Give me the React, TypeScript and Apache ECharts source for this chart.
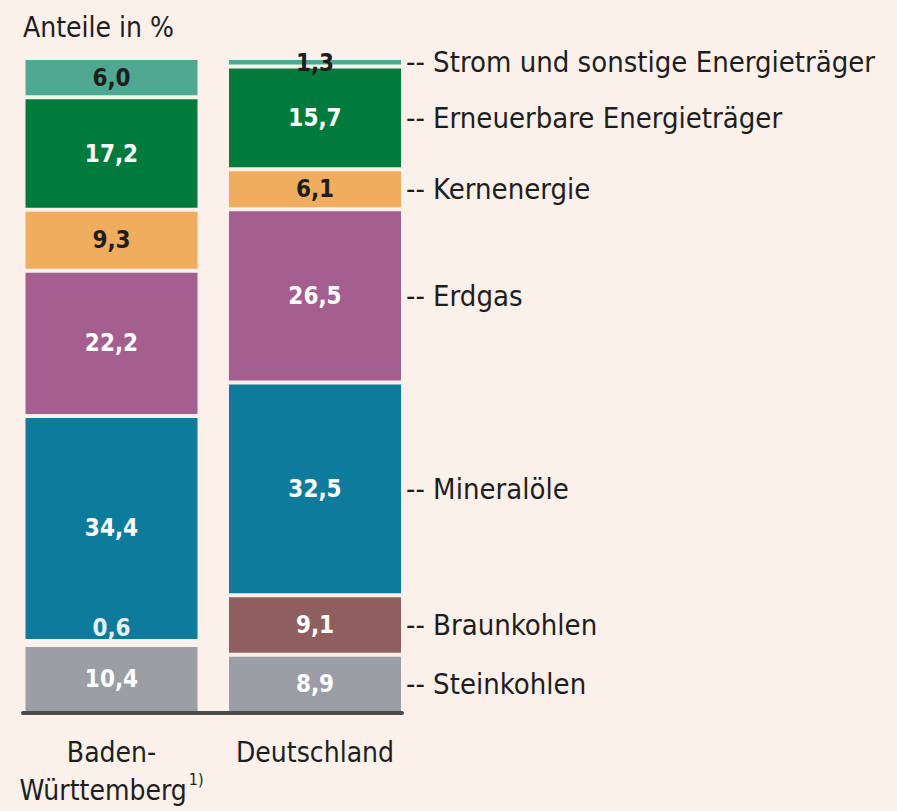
import React, { useEffect, useRef } from 'react';
import * as echarts from 'echarts';

const categories = ['Baden-Württemberg', 'Deutschland'];
const seriesNames = [
  'Steinkohlen',
  'Braunkohlen',
  'Mineralöle',
  'Erdgas',
  'Kernenergie',
  'Erneuerbare Energieträger',
  'Strom und sonstige Energieträger',
];
const steinkohlen = [10.4, 8.9];
const braunkohlen = [0.6, 9.1];
const mineraloele = [34.4, 32.5];
const erdgas = [22.2, 26.5];
const kernenergie = [9.3, 6.1];
const erneuerbare = [17.2, 15.7];
const strom = [6.0, 1.3];
const seriesValues = [steinkohlen, braunkohlen, mineraloele, erdgas, kernenergie, erneuerbare, strom];

const colors = ['#9b9ea5', '#8f5f60', '#0f7b9c', '#a55e90', '#f0ad5e', '#007b3b', '#4fa891'];
const darkLabel = [false, false, false, false, true, false, true];
const BG = '#fbf0ea';
const FONT = '"Liberation Sans Narrow", "DejaVu Sans Condensed", "Roboto Condensed", Roboto, sans-serif';
const BAR_W = 176;

const fmt = (v: number) => v.toFixed(1).replace('.', ',');

export default function App() {
  const ref = useRef<HTMLDivElement>(null);
  useEffect(() => {
    const chart = echarts.init(ref.current!, null, { renderer: 'svg' });
    const series = seriesValues.map((vals, si) => ({
      name: seriesNames[si],
      type: 'bar',
      stack: 'total',
      xAxisIndex: 0,
      yAxisIndex: 0,
      barWidth: BAR_W,
      itemStyle: { color: colors[si], borderColor: BG, borderWidth: 2 },
      label: {
        show: true,
        position: 'inside',
        color: darkLabel[si] ? '#1e1e1e' : '#ffffff',
        fontFamily: FONT,
        fontSize: 24,
        fontWeight: 'bold',
        formatter: (p: any) => fmt(p.value),
      },
      data: vals.map((v, ci) => {
        if (si === 1 && ci === 0) {
          return { value: v, label: { offset: [0, -15], color: '#e3f1f5' } };
        }
        if (si === 6 && ci === 1) {
          return { value: v, label: { offset: [0, 1], color: '#1e1e1e' } };
        }
        return v;
      }),
    }));

    chart.setOption({
      animation: false,
      backgroundColor: BG,
      grid: [
        { left: 9.75, width: 407, top: 58, bottom: 98 },
        { left: 23, width: 379, top: 58, bottom: 98 },
      ],
      xAxis: [
        {
          type: 'category',
          gridIndex: 0,
          data: categories,
          axisLine: { show: false },
          axisTick: { show: false },
          axisLabel: {
            interval: 0,
            margin: 20,
            fontFamily: FONT,
            fontSize: 28,
            color: '#1e1e1e',
            lineHeight: 38,
            formatter: (v: string) =>
              v === 'Baden-Württemberg' ? 'Baden-\nWürttemberg{sup|1)}' : v,
            rich: {
              sup: { fontFamily: FONT, fontSize: 16, verticalAlign: 'top', color: '#1e1e1e', padding: [0, 0, 14, 2] },
            },
          },
        },
        {
          type: 'value',
          gridIndex: 1,
          min: 0,
          max: 1,
          z: 10,
          axisLine: { show: true, lineStyle: { color: '#4a4a4a', width: 4 } },
          axisTick: { show: false },
          axisLabel: { show: false },
          splitLine: { show: false },
        },
      ],
      yAxis: [
        { type: 'value', gridIndex: 0, min: 0, max: 100.1, show: false },
        { type: 'value', gridIndex: 1, min: 0, max: 1, show: false },
      ],
      series,
    });

    // right-hand legend labels placed at the Deutschland segment centres
    const graphics: any[] = [
      {
        type: 'text',
        left: 23,
        top: 13,
        style: { text: 'Anteile in %', font: `28px ${FONT}`, fill: '#1e1e1e' },
      },
    ];
    let acc = 0;
    seriesValues.forEach((vals, si) => {
      const v = vals[1];
      const mid = acc + v / 2;
      acc += v;
      const p = chart.convertToPixel({ gridIndex: 0 }, [categories[1], mid]) as number[];
      graphics.push({
        type: 'text',
        x: p[0] + BAR_W / 2 + 3,
        y: p[1],
        style: {
          text: '-- ' + seriesNames[si],
          font: `29px ${FONT}`,
          fill: '#1e1e1e',
          verticalAlign: 'middle',
          align: 'left',
        },
      });
    });
    chart.setOption({ graphic: graphics });

    return () => chart.dispose();
  }, []);
  return <div ref={ref} style={{ position: 'absolute', left: 0, top: 0, width: 897, height: 811 }} />;
}
